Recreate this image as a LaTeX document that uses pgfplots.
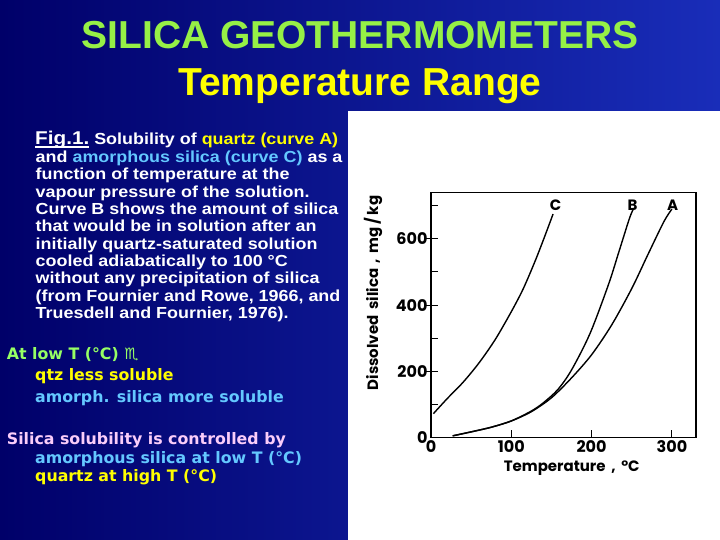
\documentclass[border=0pt]{standalone}
\usepackage{pgfplots}
\pgfplotsset{compat=1.18}
\usepackage{fontspec}
\setmainfont{Liberation Sans}
\newfontfamily\titlefont{Liberation Sans}
\newfontfamily\bodyfont[FakeStretch=1.12]{Liberation Sans}
\newfontfamily\lowfont{DejaVu Sans}
\newfontfamily\figfont{Poppins}
\definecolor{tgreen}{RGB}{150,240,70}
\definecolor{lgreen}{RGB}{150,255,100}
\definecolor{tyellow}{RGB}{255,255,0}
\definecolor{tcyan}{RGB}{100,200,255}
\definecolor{tpink}{RGB}{250,205,250}
\definecolor{bgl}{RGB}{0,0,105}
\definecolor{bgr}{RGB}{25,45,185}
\newsavebox{\ulbox}
\newcommand{\ul}[1]{\sbox{\ulbox}{#1}\rlap{\rule[-2.6pt]{\wd\ulbox}{1.6pt}}\usebox{\ulbox}}
\begin{document}
\begin{tikzpicture}[
  body/.style={anchor=base west, inner sep=0pt, text=white, font=\bodyfont\bfseries\fontsize{16}{17}\selectfont},
  low/.style={anchor=base west, inner sep=0pt, font=\lowfont\bfseries\fontsize{15.8}{17}\selectfont},
  ttl/.style={anchor=base, inner sep=0pt, font=\titlefont\bfseries\fontsize{39}{39}\selectfont}]
\useasboundingbox (0,0) rectangle (720pt,540pt);
\shade[left color=bgl, right color=bgr] (0,0) rectangle (720pt,540pt);
\fill[white] (348pt,0pt) rectangle (720pt,429pt);
% title
\node[ttl, text=tgreen] at (360pt,491pt) {SILICA GEOTHERMOMETERS};
\node[ttl, text=tyellow] at (360pt,444pt) {Temperature Range};
% caption block
\node[body] at (35pt,395pt) {{\fontsize{18.5}{18.5}\selectfont\ul{Fig.1.}} Solubility of \textcolor{tyellow}{quartz (curve A)}};
\node[body] at (35.5pt,377.3pt) {and \textcolor{tcyan}{amorphous silica (curve C)} as a};
\node[body] at (35.5pt,360pt) {function of temperature at the};
\node[body] at (35.5pt,342.7pt) {vapour pressure of the solution.};
\node[body] at (35.5pt,325.7pt) {Curve B shows the amount of silica};
\node[body] at (35.5pt,308.3pt) {that would be in solution after an};
\node[body] at (35.5pt,290.7pt) {initially quartz-saturated solution};
\node[body] at (35.5pt,273.3pt) {cooled adiabatically to 100 °C};
\node[body] at (35.5pt,256pt) {without any precipitation of silica};
\node[body] at (35.5pt,238.3pt) {(from Fournier and Rowe, 1966, and};
\node[body] at (35.5pt,221pt) {Truesdell and Fournier, 1976).};
% lower block
\node[low, text=lgreen] at (6.7pt,180pt) {At low T (°C) ♏};
\node[low, text=tyellow] at (35pt,159.3pt) {qtz less soluble};
\node[low, text=tcyan] at (35pt,137.3pt) {amorph. silica more soluble};
\node[low, text=tpink] at (6.7pt,95pt) {Silica solubility is controlled by};
\node[low, text=tcyan] at (35pt,76.7pt) {amorphous silica at low T (°C)};
\node[low, text=tyellow] at (35pt,58.3pt) {quartz at high T (°C)};
% chart
\begin{axis}[at={(431pt,102.5pt)}, anchor=south west, scale only axis,
  width=265pt, height=245pt,
  xmin=0, xmax=330, ymin=0, ymax=740,
  axis line style={line width=1.3pt, black},
  tick pos=left,
  xtick={0,100,200,300}, ytick={0,200,400,600},
  minor ytick={100,300,500,700},
  tick align=inside,
  major tick length=7pt, minor tick length=7pt,
  tick style={line width=1pt, black},
  extra y ticks={200,400,600}, extra y tick labels={},
  extra y tick style={tick align=outside},
  /pgf/number format/assume math mode=true,
  tick label style={font=\figfont\bfseries\fontsize{16}{16}\selectfont},
  xlabel={Temperature\, ,\, °C},
  ylabel={Dissolved\, silica\, ,\, mg\,/\,kg},
  label style={font=\figfont\bfseries\fontsize{15}{15}\selectfont},
  xlabel style={at={(axis description cs:0.531,0)}, anchor=center, yshift=-30.5pt},
  ylabel style={at={(axis description cs:-0.219,0.59)}, anchor=center},
  clip=false]
\addplot[black, line width=1.4pt, smooth, tension=0.5] coordinates {(3,72) (20,117) (40,167) (60,226) (80,296) (100,380) (115,450) (130,535) (142,610) (152,675)};
\addplot[black, line width=1.4pt, smooth, tension=0.5] coordinates {(27,5) (50,17) (75,31) (100,50) (125,78) (150,120) (175,180) (200,250) (225,340) (250,450) (270,552) (290,652) (300,690)};
\addplot[black, line width=1.4pt, smooth, tension=0.5] coordinates {(27,5) (50,17) (75,31) (100,50) (125,80) (140,105) (158,145) (175,204) (198,314) (221,462) (234,561) (247,661) (252,690)};
\node[font=\figfont\bfseries\fontsize{15}{15}\selectfont] at (axis cs:155,703) {C};
\node[font=\figfont\bfseries\fontsize{15}{15}\selectfont] at (axis cs:251,703) {B};
\node[font=\figfont\bfseries\fontsize{15}{15}\selectfont] at (axis cs:301,703) {A};
\end{axis}
\end{tikzpicture}
\end{document}
